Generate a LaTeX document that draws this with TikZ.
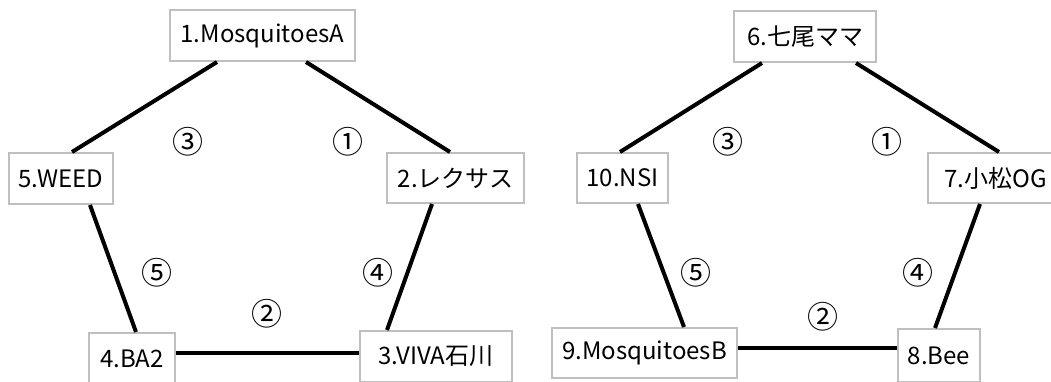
\documentclass[tikz,border=0pt]{standalone}
\usepackage{fontspec}
\setmainfont{Noto Sans CJK JP}
\begin{document}
\begin{tikzpicture}[x=1pt,y=-1pt,
  team/.style={draw=black!25,line width=2pt,fill=white,inner sep=0pt,minimum height=51pt,font=\fontsize{24}{26}\selectfont},
  match/.style={inner sep=0pt,font=\fontsize{31}{32}\selectfont},
  link/.style={line width=4pt,black}]
\useasboundingbox (0,0) rectangle (1051,381);
% left pentagon
\node[team,minimum width=185pt] (b1) at (262.5,35.5) {1.MosquitoesA};
\node[team,minimum width=137pt,minimum height=50pt] (b2) at (455.5,178) {2.レクサス};
\node[team,minimum width=152pt] (b3) at (436,356.5) {3.VIVA石川};
\node[team,minimum width=86pt] (b4) at (132,358.5) {4.BA2};
\node[team,minimum width=104pt] (b5) at (61,178.5) {5.WEED};
% right pentagon
\node[team,minimum width=142pt] (b6) at (805,36.5) {6.七尾ママ};
\node[team,minimum width=135pt,minimum height=50pt] (b7) at (995.5,178) {7.小松OG};
\node[team,minimum width=82pt,minimum height=53pt] (b8) at (939,355.5) {8.Bee};
\node[team,minimum width=185pt,minimum height=50pt] (b9) at (644.5,353) {9.MosquitoesB};
\node[team,minimum width=91pt,minimum height=50pt] (b10) at (622.5,178) {10.NSI};
% connectors left
\draw[link] ([xshift=-45.5pt]b1.south) -- ([xshift=11pt]b5.north);
\draw[link] ([xshift=43.5pt]b1.south) -- ([xshift=-5.5pt]b2.north);
\draw[link] ([xshift=-23.5pt]b2.south) -- ([xshift=-49pt]b3.north);
\draw[link] ([yshift=5.5pt]b4.east) -- ([yshift=3.5pt]b3.west);
\draw[link] ([xshift=29pt]b5.south) -- ([xshift=4pt]b4.north);
% connectors right
\draw[link] ([xshift=-43pt]b6.south) -- ([xshift=-2.5pt]b10.north);
\draw[link] ([xshift=51pt]b6.south) -- ([xshift=3.5pt]b7.north);
\draw[link] ([xshift=-15.5pt]b7.south) -- ([xshift=-4pt]b8.north);
\draw[link] ([yshift=5pt]b9.east) -- ([yshift=7.5pt]b8.west);
\draw[link] ([xshift=15.5pt]b10.south) -- ([xshift=39.5pt]b9.north);
% match numbers left
\node[match] (m1a) at (348,142) {①};
\node[match] (m2a) at (267,314) {②};
\node[match] (m3a) at (188,142) {③};
\node[match] (m4a) at (378,273) {④};
\node[match] (m5a) at (157,273) {⑤};
% match numbers right
\node[match] (m1b) at (887,142) {①};
\node[match] (m2b) at (823,317) {②};
\node[match] (m3b) at (728,142) {③};
\node[match] (m4b) at (918,273) {④};
\node[match] (m5b) at (696,273) {⑤};
\end{tikzpicture}
\end{document}
